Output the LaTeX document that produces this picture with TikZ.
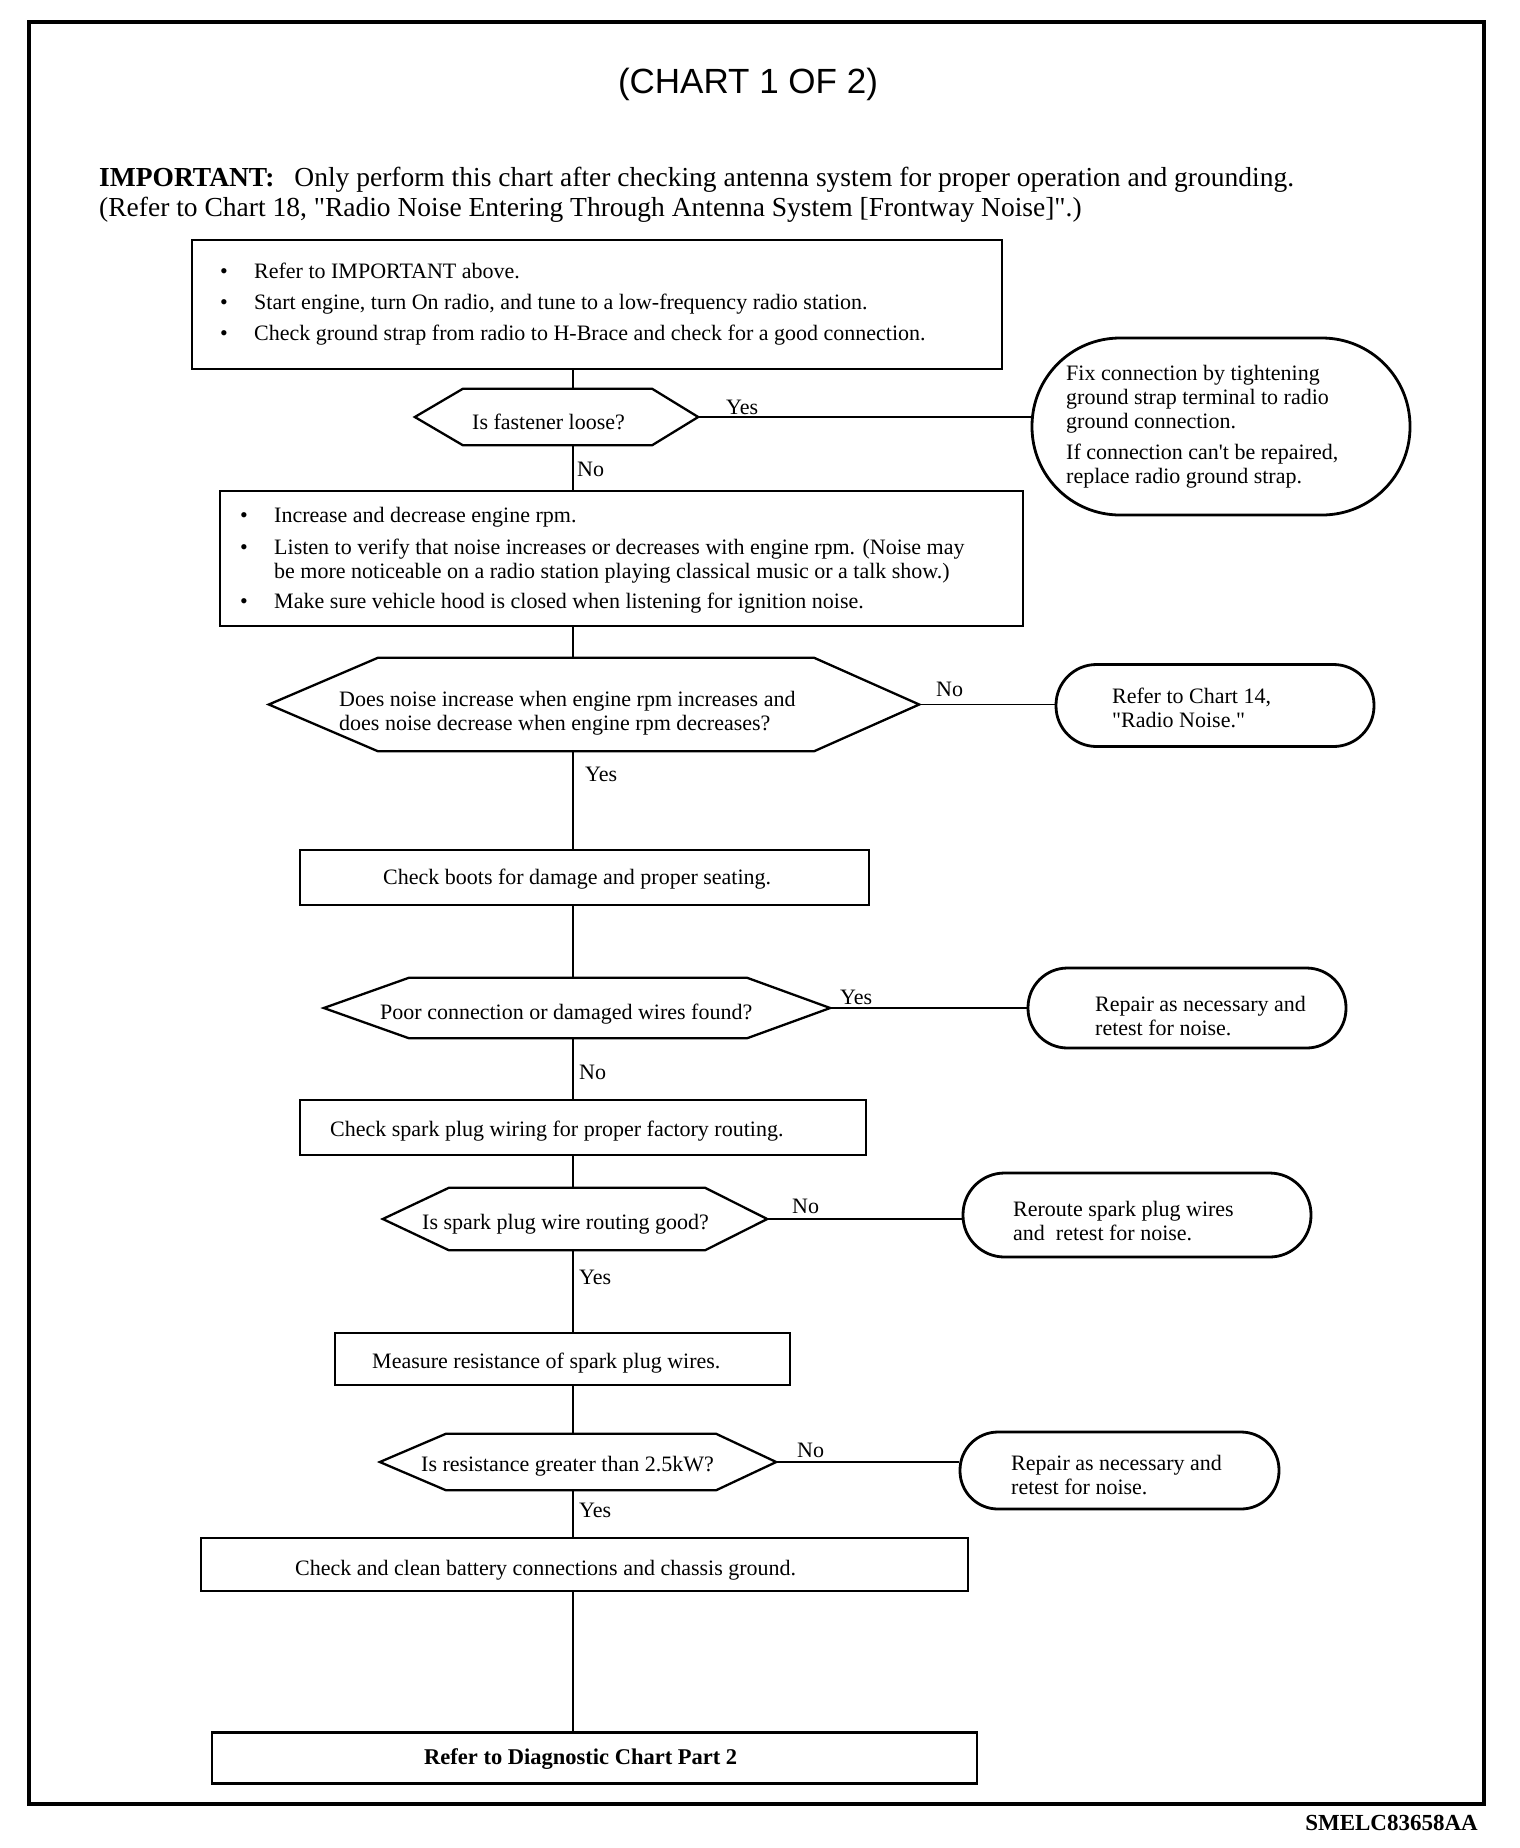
\documentclass[tikz,border=0pt]{standalone}
\usepackage{fontspec}
\setmainfont{Liberation Serif}
\newfontfamily\titlefont{Liberation Sans}
\usetikzlibrary{calc}
\newcommand\hexpath[3]{\draw[hexline] (#1.west) -- ([xshift=#2pt]#1.north west) -- ([xshift=-#3pt]#1.north east) -- (#1.east) -- ([xshift=-#3pt]#1.south east) -- ([xshift=#2pt]#1.south west) -- cycle;}
\newcommand\bul{\makebox[34pt][l]{\textbullet}}
\newcommand\sq{\textquotedbl}
\begin{document}
\begin{tikzpicture}[x=1pt,y=-1pt,
  procbox/.style={draw, line width=2.3pt, inner sep=0pt},
  decn/.style={inner sep=0pt},
  endoval/.style={draw, line width=2.8pt, inner sep=0pt},
  hexline/.style={line width=2.3pt, line join=miter},
  txt/.style={font=\fontsize{22}{24}\selectfont, inner sep=0pt, anchor=base west},
  conn/.style={line width=1.5pt}]
\useasboundingbox (0,0) rectangle (1520,1848);
\fill[white] (0,0) rectangle (1520,1848);
\draw[line width=4pt] (29,22) rectangle (1484,1804);

\coordinate (sp) at (573,0);

% title and notes
\node[font=\titlefont\fontsize{35}{40}\selectfont, inner sep=0pt] (title) at (748,84) {(CHART 1 OF 2)};
\node[anchor=base west, inner sep=0pt, font=\fontsize{27.5}{30}\selectfont] (imp1) at (99,186)
  {\textbf{IMPORTANT:}\hspace{20pt}Only perform this chart after checking antenna system for proper operation and grounding.};
\node[anchor=base west, inner sep=0pt, font=\fontsize{27.5}{30}\selectfont] (imp2) at (99,216)
  {(Refer to Chart 18, \sq Radio Noise Entering Through Antenna System [Frontway Noise]\sq.)};

% process boxes
\node[procbox, minimum width=810pt, minimum height=129pt] (b1) at (597,304.5) {};
\node[procbox, minimum width=803pt, minimum height=135pt] (b2) at (621.5,558.5) {};
\node[procbox, minimum width=569pt, minimum height=55pt] (b3) at (584.5,877.5) {};
\node[procbox, minimum width=566pt, minimum height=55pt] (b4) at (583,1127.5) {};
\node[procbox, minimum width=455pt, minimum height=52pt] (b5) at (562.5,1359) {};
\node[procbox, minimum width=767pt, minimum height=53pt] (b6) at (584.5,1564.5) {};
\node[procbox, minimum width=765pt, minimum height=51pt] (b7) at (594.5,1758) {};

% decisions
\node[decn, minimum width=283pt, minimum height=56pt] (d1) at (556.5,417) {};
\node[decn, minimum width=650pt, minimum height=93pt] (d2) at (594,704.5) {};
\node[decn, minimum width=506pt, minimum height=60pt] (d3) at (577,1008) {};
\node[decn, minimum width=384pt, minimum height=62pt] (d4) at (575,1219) {};
\node[decn, minimum width=396pt, minimum height=56pt] (d5) at (578,1462) {};
\hexpath{d1}{48}{46}
\hexpath{d2}{109}{105}
\hexpath{d3}{85}{83}
\hexpath{d4}{66}{62}
\hexpath{d5}{66}{60}

% terminal ovals
\node[endoval, minimum width=378pt, minimum height=177pt, rounded corners=88pt] (o1) at (1221,426.5) {};
\node[endoval, minimum width=318pt, minimum height=82pt, rounded corners=40.5pt] (o2) at (1215,705.5) {};
\node[endoval, minimum width=318pt, minimum height=80pt, rounded corners=39.5pt] (o3) at (1187,1008) {};
\node[endoval, minimum width=348pt, minimum height=84pt, rounded corners=41.5pt] (o4) at (1137,1215) {};
\node[endoval, minimum width=319pt, minimum height=77pt, rounded corners=38pt] (o5) at (1119.5,1470.5) {};

% texts
\node[txt] (t1) at (220,278) {\begin{tabular}[t]{@{}l@{}}
  \bul Refer to IMPORTANT above.\\[7pt]
  \bul Start engine, turn On radio, and tune to a low-frequency radio station.\\[7pt]
  \bul Check ground strap from radio to H-Brace and check for a good connection.
  \end{tabular}};
\node[txt] (t2) at (240,522) {\begin{tabular}[t]{@{}l@{}}
  \bul Increase and decrease engine rpm.\\[8pt]
  \bul Listen to verify that noise increases or decreases with engine rpm. (Noise may\\
  \hspace*{34pt}be more noticeable on a radio station playing classical music or a talk show.)\\[6pt]
  \bul Make sure vehicle hood is closed when listening for ignition noise.
  \end{tabular}};
\node[txt] (to1) at (1066,380) {\begin{tabular}[t]{@{}l@{}}
  Fix connection by tightening\\ ground strap terminal to radio\\ ground connection.\\[7pt]
  If connection can\textquotesingle t be repaired,\\ replace radio ground strap.
  \end{tabular}};
\node[txt] (td1) at (472,429) {Is fastener loose?};
\node[txt] (td2) at (339,706) {\begin{tabular}[t]{@{}l@{}}
  Does noise increase when engine rpm increases and\\ does noise decrease when engine rpm decreases?
  \end{tabular}};
\node[txt] (to2) at (1112,703) {\begin{tabular}[t]{@{}l@{}}Refer to Chart 14,\\ \sq Radio Noise.\sq\end{tabular}};
\node[txt] (tb3) at (383,884) {Check boots for damage and proper seating.};
\node[txt] (td3) at (380,1019) {Poor connection or damaged wires found?};
\node[txt] (to3) at (1095,1011) {\begin{tabular}[t]{@{}l@{}}Repair as necessary and\\ retest for noise.\end{tabular}};
\node[txt] (tb4) at (330,1136) {Check spark plug wiring for proper factory routing.};
\node[txt] (td4) at (422,1229) {Is spark plug wire routing good?};
\node[txt] (to4) at (1013,1216) {\begin{tabular}[t]{@{}l@{}}Reroute spark plug wires\\ and\ \ retest for noise.\end{tabular}};
\node[txt] (tb5) at (372,1368) {Measure resistance of spark plug wires.};
\node[txt] (td5) at (421,1471) {Is resistance greater than 2.5kW?};
\node[txt] (to5) at (1011,1470) {\begin{tabular}[t]{@{}l@{}}Repair as necessary and\\ retest for noise.\end{tabular}};
\node[txt] (tb6) at (295,1575) {Check and clean battery connections and chassis ground.};
\node[txt, font=\bfseries\fontsize{22.5}{24}\selectfont] (tb7) at (424,1764) {Refer to Diagnostic Chart Part 2};

% labels
\node[txt] (y1) at (726,414) {Yes};
\node[txt] (n1) at (577,476) {No};
\node[txt] (n2) at (936,696) {No};
\node[txt] (y2) at (585,781) {Yes};
\node[txt] (y3) at (840,1004) {Yes};
\node[txt] (n3) at (579,1079) {No};
\node[txt] (n4) at (792,1213) {No};
\node[txt] (y4) at (579,1284) {Yes};
\node[txt] (n5) at (797,1457) {No};
\node[txt] (y5) at (579,1517) {Yes};

% connectors
\draw[conn] (b1.south -| sp) -- (d1.north -| sp);
\draw[conn] (d1.south -| sp) -- (b2.north -| sp);
\draw[conn] (b2.south -| sp) -- (d2.north -| sp);
\draw[conn] (d2.south -| sp) -- (b3.north -| sp);
\draw[conn] (b3.south -| sp) -- (d3.north -| sp);
\draw[conn] (d3.south -| sp) -- (b4.north -| sp);
\draw[conn] (b4.south -| sp) -- (d4.north -| sp);
\draw[conn] (d4.south -| sp) -- (b5.north -| sp);
\draw[conn] (b5.south -| sp) -- (d5.north -| sp);
\draw[conn] (d5.south -| sp) -- (b6.north -| sp);
\draw[conn] (b6.south -| sp) -- (b7.north -| sp);
\draw[conn] (d1.east) -- (d1.east -| o1.west);
\draw[conn] (d2.east) -- (d2.east -| o2.west);
\draw[conn] (d3.east) -- (d3.east -| o3.west);
\draw[conn] (d4.east) -- (d4.east -| o4.west);
\draw[conn] (d5.east) -- (d5.east -| o5.west);

\node[anchor=base east, inner sep=0pt, font=\bfseries\fontsize{23}{26}\selectfont] (foot) at (1478,1830) {SMELC83658AA};
\end{tikzpicture}
\end{document}
